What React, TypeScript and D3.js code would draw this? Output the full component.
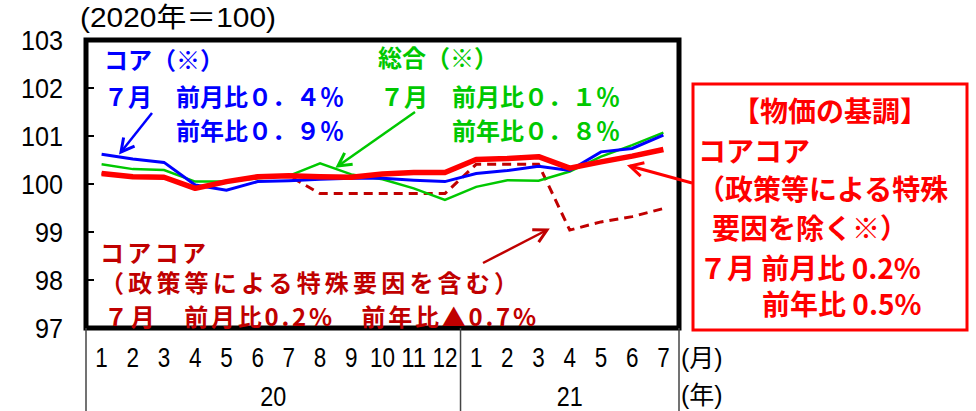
import React from "react";
import * as d3 from "d3";

// month / year labels of the lower axis
const months = ["1", "2", "3", "4", "5", "6", "7", "8", "9", "10", "11", "12", "1", "2", "3", "4", "5", "6", "7"];
const yearLabels = ["20", "21"];
const yearSpans = [12, 7];
const yTicks = [97, 98, 99, 100, 101, 102, 103];

// 2020 = 100
const core = [100.62, 100.52, 100.45, 99.98, 99.87, 100.05, 100.07, 100.1, 100.12, 100.12, 100.08, 100.05, 100.22, 100.28, 100.37, 100.28, 100.67, 100.74, 101.02];
const headline = [100.41, 100.31, 100.29, 100.05, 100.05, 100.12, 100.17, 100.43, 100.2, 100.1, 99.91, 99.67, 99.94, 100.08, 100.07, 100.26, 100.57, 100.81, 101.07];
const coreCore = [100.22, 100.15, 100.14, 99.91, 100.05, 100.15, 100.17, 100.15, 100.14, 100.21, 100.24, 100.24, 100.51, 100.53, 100.57, 100.33, 100.46, 100.58, 100.72];
const coreCoreIncl = [100.22, 100.15, 100.14, 99.91, 100.05, 100.15, 100.17, 99.8, 99.8, 99.8, 99.8, 99.8, 100.41, 100.41, 100.41, 99.04, 99.21, 99.32, 99.49];

const W = 976;
const H = 411;
const left = 86;
const right = 679;
const top = 40;
const bottom = 328;

const numFont = "'Liberation Sans Narrow', 'Liberation Sans', 'Noto Sans CJK JP', sans-serif";
const jpFont = "'Noto Sans CJK JP', sans-serif";

const BLUE = "#0000ff";
const GREEN = "#00c800";
const RED = "#ff0000";
const DARK = "#c00000";

const Arrow = ({ id, color }: { id: string; color: string }) => (
  <marker id={id} markerUnits="userSpaceOnUse" markerWidth={20} markerHeight={20} refX={16} refY={10} orient="auto">
    <path d="M3,3 L16,10 L3,17" fill="none" stroke={color} strokeWidth={3} />
  </marker>
);

const App = () => {
  const x = d3.scaleBand<number>().domain(d3.range(months.length)).range([left, right]);
  const y = d3.scaleLinear().domain([97, 103]).range([bottom, top]);
  const cx = (i: number) => (x(i) as number) + x.bandwidth() / 2;

  const line = d3.line<number>().x((_, i) => cx(i)).y((d) => y(d));

  // year group boundaries
  let acc = 0;
  const groups = yearSpans.map((n, k) => {
    const start = acc;
    acc += n;
    return { label: yearLabels[k], x0: x(start) as number, x1: start + n < months.length ? (x(start + n) as number) : right };
  });

  return (
    <svg width={W} height={H} style={{ position: "absolute", left: 0, top: 0, background: "#fff" }}>
      <defs>
        <Arrow id="aBlue" color={BLUE} />
        <Arrow id="aGreen" color={GREEN} />
        <Arrow id="aRed" color={RED} />
        <Arrow id="aDark" color={DARK} />
      </defs>
      <rect width={W} height={H} fill="#fff" />

      {/* unit */}
      <text x={80} y={18} fontFamily={numFont} fontSize={27} dominantBaseline="central" textLength={196} lengthAdjust="spacingAndGlyphs">(2020年＝100)</text>

      {/* y axis labels */}
      {yTicks.map((t) => (
        <text key={t} x={63} y={y(t)} textAnchor="end" dominantBaseline="central" fontFamily={numFont} fontSize={28} textLength={String(t).length * 14} lengthAdjust="spacingAndGlyphs">
          {t}
        </text>
      ))}
      {yTicks.slice(1, -1).map((t) => (
        <line key={t} x1={left} x2={left + 8} y1={y(t)} y2={y(t)} stroke="#000" strokeWidth={2} />
      ))}

      {/* series */}
      <path d={line(coreCoreIncl) || ""} fill="none" stroke={DARK} strokeWidth={3} strokeDasharray="9,6" />
      <path d={line(headline) || ""} fill="none" stroke={GREEN} strokeWidth={2.5} />
      <path d={line(core) || ""} fill="none" stroke={BLUE} strokeWidth={3} />
      <path d={line(coreCore) || ""} fill="none" stroke={RED} strokeWidth={5.5} strokeLinejoin="round" />

      {/* frame */}
      <rect x={left} y={top} width={right - left} height={bottom - top} fill="none" stroke="#000" strokeWidth={5} />

      {/* lower category axis */}
      {groups.map((g) => (
        <g key={g.label}>
          <line x1={g.x0} x2={g.x0} y1={bottom} y2={H} stroke="#444" strokeWidth={1.5} />
          <text x={(g.x0 + g.x1) / 2} y={397} textAnchor="middle" dominantBaseline="central" fontFamily={numFont} fontSize={27} textLength={26} lengthAdjust="spacingAndGlyphs">
            {g.label}
          </text>
        </g>
      ))}
      <line x1={right} x2={right} y1={bottom} y2={H} stroke="#444" strokeWidth={1.5} />
      {months.map((m, i) => (
        <text key={i} x={cx(i)} y={358} textAnchor="middle" dominantBaseline="central" fontFamily={numFont} fontSize={27} textLength={m.length * 12.5} lengthAdjust="spacingAndGlyphs">
          {m}
        </text>
      ))}
      <text x={681} y={358} dominantBaseline="central" fontFamily={numFont} fontSize={25}>(月)</text>
      <text x={681} y={395} dominantBaseline="central" fontFamily={numFont} fontSize={25}>(年)</text>

      {/* core annotation */}
      <g fontFamily={jpFont} fontWeight={700} fontSize={24} fill={BLUE} dominantBaseline="central">
        <text x={104} y={58}>コア（※）</text>
        <text x={104} y={95}>７月　前月比０．４％</text>
        <text x={176} y={129}>前年比０．９％</text>
      </g>
      <line x1={152} y1={113} x2={121} y2={152} stroke={BLUE} strokeWidth={2.5} markerEnd="url(#aBlue)" />

      {/* headline annotation */}
      <g fontFamily={jpFont} fontWeight={700} fontSize={24} fill={GREEN} dominantBaseline="central">
        <text x={378} y={56}>総合（※）</text>
        <text x={380} y={95}>７月　前月比０．１％</text>
        <text x={452} y={129}>前年比０．８％</text>
      </g>
      <line x1={415} y1={112} x2={338} y2={166} stroke={GREEN} strokeWidth={2.5} markerEnd="url(#aGreen)" />

      {/* core-core incl. policy annotation */}
      <g fontFamily={jpFont} fontWeight={700} fontSize={24} fill={DARK} dominantBaseline="central">
        <text x={100} y={251} textLength={106} lengthAdjust="spacing">コアコア</text>
        <text x={100} y={281} textLength={418} lengthAdjust="spacing">（政策等による特殊要因を含む）</text>
        <text x={104} y={315} textLength={432} lengthAdjust="spacing">７月　前月比0.2%　前年比▲0.7%</text>
      </g>
      <line x1={483} y1={263} x2={547} y2={230} stroke={DARK} strokeWidth={2.5} markerEnd="url(#aDark)" />

      {/* core-core box */}
      <rect x={693} y={84} width={274} height={246} fill="#fff" stroke={RED} strokeWidth={3} />
      <line x1={692} y1={183} x2={630} y2={166} stroke={RED} strokeWidth={3} markerEnd="url(#aRed)" />
      <g fontFamily={jpFont} fontWeight={700} fontSize={28} fill={RED} dominantBaseline="central">
        <text x={830} y={110} textAnchor="middle">【物価の基調】</text>
        <text x={698} y={150}>コアコア</text>
        <text x={697} y={188}>（政策等による特殊</text>
        <text x={712} y={227}>要因を除く※）</text>
        <text x={699} y={267}>７月 前月比 0.2%</text>
        <text x={762} y={303}>前年比 0.5%</text>
      </g>
    </svg>
  );
};

export default App;
